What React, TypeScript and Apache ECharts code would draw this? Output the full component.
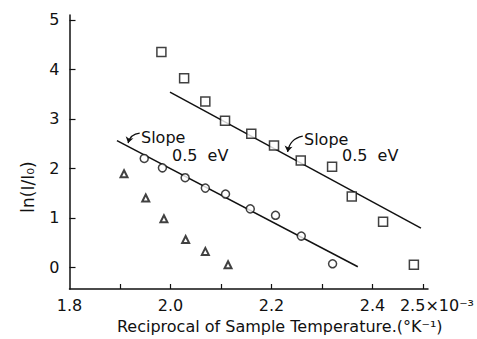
import React, { useEffect, useRef } from "react";
import * as echarts from "echarts";

// Data (x in 10^-3 K^-1, y = ln(I/I0))
const squareX = [1.982, 2.027, 2.069, 2.108, 2.16, 2.205, 2.258, 2.32, 2.359, 2.421, 2.482];
const squareY = [4.35, 3.82, 3.35, 2.96, 2.7, 2.46, 2.16, 2.03, 1.43, 0.92, 0.05];
const circleX = [1.948, 1.984, 2.029, 2.069, 2.109, 2.158, 2.208, 2.259, 2.321];
const circleY = [2.2, 2.01, 1.81, 1.6, 1.48, 1.18, 1.05, 0.63, 0.07];
const triangleX = [1.908, 1.951, 1.987, 2.03, 2.069, 2.114];
const triangleY = [1.89, 1.4, 0.98, 0.56, 0.32, 0.05];

const squareFitX = [1.999, 2.496];
const squareFitY = [3.54, 0.79];
const circleFitX = [1.894, 2.371];
const circleFitY = [2.56, 0.01];

const arrow1 = [[1.939, 2.71], [1.916, 2.51]];
const arrow2 = [[2.262, 2.65], [2.232, 2.33]];

const xTickValues = [1.9, 2.0, 2.1, 2.2, 2.3, 2.4, 2.5];
const xLabelValues = [1.8, 2.0, 2.2, 2.4, 2.5];
const yTickValues = [0, 1, 2, 3, 4, 5];

const FONT = "DejaVu Sans";
const INK = "#111";

const zip = (xs: number[], ys: number[]) => xs.map((x, i) => [x, ys[i]]);

export default function App() {
  const ref = useRef<HTMLDivElement>(null);
  useEffect(() => {
    if (!ref.current) return;
    const chart = echarts.init(ref.current, null, { renderer: "svg" });
    const markerStyle = { color: "#fff", borderColor: INK, borderWidth: 1.5 };
    const txt = (text: string, x: number, y: number) => ({
      type: "text",
      x,
      y,
      style: { text, fontSize: 16, fontFamily: FONT, fill: INK, verticalAlign: "middle" },
    });
    chart.setOption({
      animation: false,
      backgroundColor: "#fff",
      textStyle: { fontFamily: FONT, color: INK },
      grid: { left: 69.5, right: 48, top: 15, bottom: 46 },
      xAxis: {
        type: "value",
        min: 1.8,
        max: 2.51,
        axisLine: { show: true, onZero: false, lineStyle: { color: INK, width: 1.5 } },
        axisTick: {
          show: true,
          inside: true,
          length: 5,
          customValues: xTickValues,
          lineStyle: { color: INK, width: 1.2 },
        },
        splitLine: { show: false },
        axisLabel: {
          customValues: xLabelValues,
          fontSize: 16,
          color: INK,
          fontFamily: FONT,
          margin: 8,
          formatter: (v: number) =>
            Math.abs(v - 2.5) < 1e-9 ? "{pad|}2.5×10⁻³" : v.toFixed(1),
          rich: { pad: { width: 28 } },
        },
        name: "Reciprocal of Sample Temperature.(°K⁻¹)",
        nameLocation: "middle",
        nameGap: 29,
        nameTextStyle: { fontSize: 16, color: INK, fontFamily: FONT, padding: [0, 0, 0, 62] },
      },
      yAxis: {
        type: "value",
        min: -0.44,
        max: 5.1,
        axisLine: { show: true, onZero: false, lineStyle: { color: INK, width: 1.5 } },
        axisTick: {
          show: true,
          inside: true,
          length: 6,
          customValues: yTickValues,
          lineStyle: { color: INK, width: 1.2 },
        },
        splitLine: { show: false },
        axisLabel: {
          customValues: yTickValues,
          fontSize: 16,
          color: INK,
          fontFamily: FONT,
          margin: 10,
        },
      },
      graphic: [
        {
          type: "text",
          x: 28,
          y: 187,
          rotation: Math.PI / 2,
          style: {
            text: "ln(I/I₀)",
            fontSize: 17,
            fontFamily: FONT,
            fill: INK,
            align: "center",
            verticalAlign: "middle",
          },
        },
        txt("Slope", 141, 137),
        txt("0.5  eV", 172, 155),
        txt("Slope", 304, 139),
        txt("0.5  eV", 342, 155),
      ],
      series: [
        {
          type: "line",
          data: zip(squareFitX, squareFitY),
          symbol: "none",
          lineStyle: { color: INK, width: 1.5 },
          z: 1,
        },
        {
          type: "line",
          data: zip(circleFitX, circleFitY),
          symbol: "none",
          lineStyle: { color: INK, width: 1.5 },
          z: 1,
        },
        {
          type: "lines",
          coordinateSystem: "cartesian2d",
          data: [{ coords: arrow1 }, { coords: arrow2 }],
          symbol: ["none", "arrow"],
          symbolSize: 6,
          itemStyle: { color: INK },
          lineStyle: { color: INK, width: 1.2, opacity: 1, curveness: -0.35 },
          z: 1,
        },
        {
          type: "scatter",
          data: zip(squareX, squareY),
          symbol: "rect",
          symbolSize: 9,
          itemStyle: markerStyle,
          z: 3,
        },
        {
          type: "scatter",
          data: zip(circleX, circleY),
          symbol: "circle",
          symbolSize: 8,
          itemStyle: markerStyle,
          z: 3,
        },
        {
          type: "scatter",
          data: zip(triangleX, triangleY),
          symbol: "triangle",
          symbolSize: 7,
          itemStyle: { color: "#fff", borderColor: INK, borderWidth: 2 },
          z: 3,
        },
      ],
    });
    return () => chart.dispose();
  }, []);
  return (
    <div
      ref={ref}
      style={{ position: "fixed", left: 0, top: 0, width: 477, height: 339, background: "#fff" }}
    />
  );
}
